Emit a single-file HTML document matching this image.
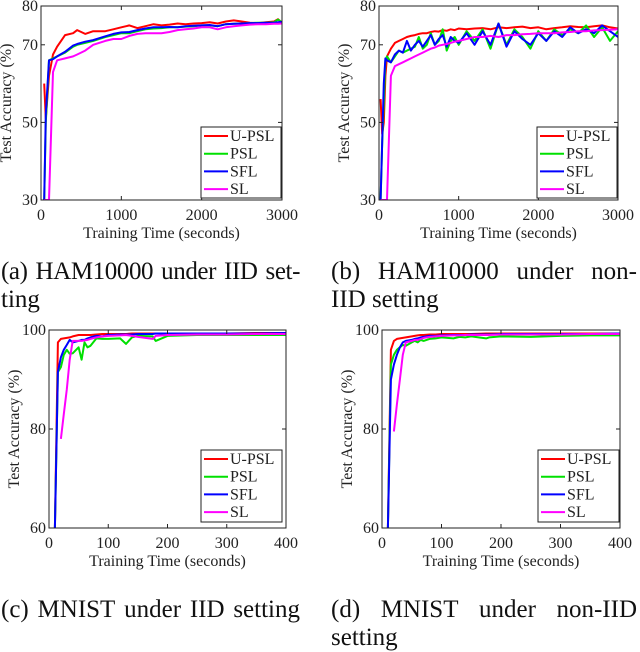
<!DOCTYPE html>
<html><head><meta charset="utf-8"><style>
body{margin:0;background:#fff;width:640px;height:644px;overflow:hidden;position:relative;font-family:"Liberation Serif",serif}
.cap{position:absolute;font-size:25px;line-height:28px;color:#111;white-space:nowrap}
.j{display:flex;justify-content:space-between}
</style></head><body>
<svg id="chart" width="640" height="644" style="position:absolute;left:0;top:0" font-family="Liberation Serif, serif"></svg>

<div class="cap j" style="left:1px;top:258px;width:299px;letter-spacing:-0.4px"><span>(a)</span><span>HAM10000</span><span>under</span><span>IID</span><span>set-</span></div>
<div class="cap" style="left:1px;top:286px">ting</div>
<div class="cap j" style="left:331px;top:258px;width:306px"><span>(b)</span><span>HAM10000</span><span>under</span><span>non-</span></div>
<div class="cap" style="left:331px;top:286px">IID setting</div>
<div class="cap j" style="left:1px;top:596px;width:299px"><span>(c)</span><span>MNIST</span><span>under</span><span>IID</span><span>setting</span></div>
<div class="cap j" style="left:331px;top:596px;width:306px"><span>(d)</span><span>MNIST</span><span>under</span><span>non-IID</span></div>
<div class="cap" style="left:331px;top:624px">setting</div>

<script>
const seriesNames=["U-PSL","PSL","SFL","SL"];
const colors=["#ff0000","#00e000","#0000ff","#ff00ff"];

const hamIidX=[40,60,100,150,200,300,400,450,550,650,800,900,1000,1100,1200,1300,1400,1500,1600,1700,1800,1900,2000,2100,2200,2300,2400,2500,2600,2700,2800,2900,2950,3000];
const hamIidU=[60,51,62,67.5,69.5,72.5,73,73.8,72.8,73.5,73.5,74,74.5,75,74.3,74.8,75.3,75,75.2,75.5,75.3,75.5,75.6,75.8,75.5,76,76.3,76,75.7,75.6,75.8,76,76.6,75.7];
const hamIidP=[30,50,66,66.5,67,68,69.5,70,70.5,71,72,72.5,73,73,73.5,74,74.2,74.3,74.5,74.5,74.7,74.8,75,75,74.8,75.3,75.4,75.5,75.6,75.7,75.7,75.8,76.5,75.8];
const hamIidS=[30,52,66,66.3,67,68.2,69.8,70.2,70.8,71.2,72.2,72.8,73.2,73.3,73.8,74.2,74.5,74.5,74.6,74.5,74.8,74.9,75,75.1,74.8,75.3,75.4,75.5,75.6,75.6,75.7,75.7,75.8,75.9];
const hamIidL=[30,30,30,63,66,66.5,67,67.5,68.5,70,71,71.5,71.5,72.3,72.8,73,73,73,73.3,73.8,74,74.2,74.5,74.5,74,74.5,74.8,75,75.2,75.3,75.3,75.4,75.4,75.5];

const hamNiidX=[20,40,60,80,100,150,200,250,300,350,400,450,500,550,600,650,700,750,800,850,900,950,1000,1100,1200,1300,1400,1500,1600,1700,1800,1900,2000,2100,2200,2300,2400,2500,2600,2700,2800,2900,3000];
const hamNiidU=[56,47,50,62,67,69,70.5,71,71.5,72,72.3,72.5,72.8,73,73,73.3,73.5,73.4,73.8,73.6,74,73.8,74.2,74,74.2,74.3,74,74.5,74.3,74.5,74.7,74.3,74.5,74,74.3,74.5,74.8,74.6,74.5,74.8,75,74.5,74.2];
const hamNiidP=[30,45,55,66,67,65.5,67,68.5,68,68.5,69,69.5,72,69,70,73,70,71,74,68.5,71,72,70,73.5,71,74,69,75.5,70,74,72,69,73.5,71,74,72.5,74,73,75,72,74.5,71,73.5];
const hamNiidS=[30,45,60,66.5,66,65.5,67.5,68.5,68,71,68.5,70,71,69.5,71,72.5,70,71.5,72.5,69.5,72,71,70.5,73,70,73.5,70,75.5,69.5,73.5,71.5,70,73,71,73.5,72,74.5,73,74,73,75,73.5,72];
const hamNiidL=[30,30,30,30,30,62,64.5,65,65.5,66,66.5,67,67.5,68,68.5,69,69.3,69.8,70,70.2,70.5,70.8,71,71.5,72,72,72.3,72,72.5,72.5,72.7,72.8,73,73,73,73.2,73.3,73.5,73.5,73.7,73.8,73.9,74];

const mnIidX=[10,15,20,25,30,35,40,50,55,60,65,70,80,90,100,120,130,140,150,175,180,200,250,300,350,400];
const mnIidU=[60,97.5,98.2,98.3,98.4,98.5,98.7,99,99,99,99,99,99.1,99.2,99.2,99.2,99.2,99.3,99.3,99.3,99.3,99.3,99.3,99.3,99.4,99.4];
const mnIidP=[60,91.5,92.5,95,96,95.2,95.3,96.5,94,97.5,96.5,96.8,98.3,98.2,98.2,98.3,97.2,98.5,98.8,98.7,97.8,98.8,99,99,99,99];
const mnIidS=[60,91.5,94.5,96,97,98,97.5,97.8,98,98,98.3,98.5,98.8,98.7,99,99.1,99.1,99.1,99.2,99.2,99.3,99.3,99.3,99.3,99.3,99.4];
const mnIidL=[null,null,78,83,88,94,97.8,97.8,97.8,97.9,98,98.2,98.5,98.7,98.8,98.9,99,98.8,98.6,98.2,98.8,99,99.1,99.1,99.2,99.2];

const mnNiidX=[10,15,20,25,30,35,40,50,55,60,65,70,80,90,100,120,130,140,150,175,180,200,250,300,350,400];
const mnNiidU=[60,96,97.8,98.2,98.3,98.4,98.5,98.7,98.8,98.9,99,99,99.1,99.1,99.2,99.2,99.2,99.2,99.2,99.3,99.3,99.3,99.3,99.3,99.3,99.3];
const mnNiidP=[60,93,95,96,96.5,97,96.8,97.5,97.8,97.5,98,97.8,98.2,98.3,98.5,98.3,98.6,98.5,98.7,98.3,98.5,98.7,98.6,98.8,98.9,98.9];
const mnNiidS=[60,90,93,95,96.5,97.5,97.8,98,98.2,98.3,98.5,98.6,98.8,98.8,98.9,99,99,99,99.1,99.1,99.1,99.2,99.2,99.2,99.2,99.3];
const mnNiidL=[null,null,79.5,85,90,95,97.5,97.8,98,98,98.2,98.4,98.6,98.7,98.8,98.9,98.9,99,99,99,99,99.1,99.1,99.1,99.2,99.2];

const hamXTicks=[0,1000,2000,3000], hamYTicks=[30,50,70,80];
const mnXTicks=[0,100,200,300,400], mnYTicks=[60,80,100];

const svg=document.getElementById('chart');
const NS='http://www.w3.org/2000/svg';
function mk(tag,attrs,parent){const e=document.createElementNS(NS,tag);for(const k in attrs)e.setAttribute(k,attrs[k]);(parent||svg).appendChild(e);return e;}

function plot(id,box,xDom,yDom,xTicks,yTicks,xs,ys,legendBox){
  const g=mk('g',{});
  
  
  const [L,T,R,B]=box;
  const sx=v=>L+(v-xDom[0])/(xDom[1]-xDom[0])*(R-L);
  const sy=v=>B-(v-yDom[0])/(yDom[1]-yDom[0])*(B-T);
  const clip=mk('clipPath',{id:id+'-clip'},g);
  mk('rect',{x:L,y:T,width:R-L,height:B-T},clip);
  const lines=mk('g',{'clip-path':'url(#'+id+'-clip)'},g);
  ys.forEach((arr,i)=>{
    let d='';let started=false;
    arr.forEach((v,j)=>{if(v===null||v===undefined)return;d+=(started?'L':'M')+sx(xs[j]).toFixed(1)+','+sy(v).toFixed(1);started=true;});
    const p=mk('path',{d:d,fill:'none',stroke:colors[i],'stroke-width':2,'stroke-linejoin':'round'},lines);
    
    
  });
  const frame=mk('rect',{x:L,y:T,width:R-L,height:B-T,fill:'none',stroke:'#222','stroke-width':1},g);
  
  
  xTicks.forEach(t=>{
    const x=sx(t);
    mk('line',{x1:x,x2:x,y1:B,y2:B-4,stroke:'#222'},g);
    mk('line',{x1:x,x2:x,y1:T,y2:T+4,stroke:'#222'},g);
    const tx=mk('text',{x:x,y:B+20,'font-size':16,'text-anchor':'middle',fill:'#222'},g);
    tx.textContent=t;
    
    
  });
  yTicks.forEach(t=>{
    const y=sy(t);
    mk('line',{x1:L,x2:L+4,y1:y,y2:y,stroke:'#222'},g);
    mk('line',{x1:R,x2:R-4,y1:y,y2:y,stroke:'#222'},g);
    const tx=mk('text',{x:L-3,y:y+5,'font-size':16,'text-anchor':'end',fill:'#222'},g);
    tx.textContent=t;
    
    
  });
  const xl=mk('text',{x:(L+R)/2,y:B+38,'font-size':16,'text-anchor':'middle',fill:'#222'},g);
  xl.textContent='Training Time (seconds)';
  
  
  const yx=L-30, yy=(T+B)/2;
  const yl=mk('text',{x:yx,y:yy,'font-size':16,'text-anchor':'middle',fill:'#222',transform:'rotate(-90 '+yx+' '+yy+')'},g);
  yl.textContent='Test Accuracy (%)';
  
  
  const [lx,ly,lw,lh]=legendBox;
  const lg=mk('g',{},g);
  
  
  mk('rect',{x:lx,y:ly,width:lw,height:lh,fill:'#fff',stroke:'#222'},lg);
  seriesNames.forEach((n,i)=>{
    const yy2=ly+9+i*17.7;
    mk('line',{x1:lx+3,x2:lx+27,y1:yy2,y2:yy2,stroke:colors[i],'stroke-width':2},lg);
    const t=mk('text',{x:lx+29,y:yy2+5,'font-size':16,fill:'#222'},lg);
    t.textContent=n;
    
    
  });
}
plot('chart-ham-iid',[41,6,282,200],[0,3000],[30,80],hamXTicks,hamYTicks,hamIidX,[hamIidU,hamIidP,hamIidS,hamIidL],[201,127,80,71]);
plot('chart-ham-noniid',[379,6,618,200],[0,3000],[30,80],hamXTicks,hamYTicks,hamNiidX,[hamNiidU,hamNiidP,hamNiidS,hamNiidL],[537,127,80,71]);
plot('chart-mnist-iid',[49,330,286,528],[0,400],[60,100],mnXTicks,mnYTicks,mnIidX,[mnIidU,mnIidP,mnIidS,mnIidL],[201,450,81,72]);
plot('chart-mnist-noniid',[382,330,620,528],[0,400],[60,100],mnXTicks,mnYTicks,mnNiidX,[mnNiidU,mnNiidP,mnNiidS,mnNiidL],[538,450,81,72]);
</script>
</body></html>
